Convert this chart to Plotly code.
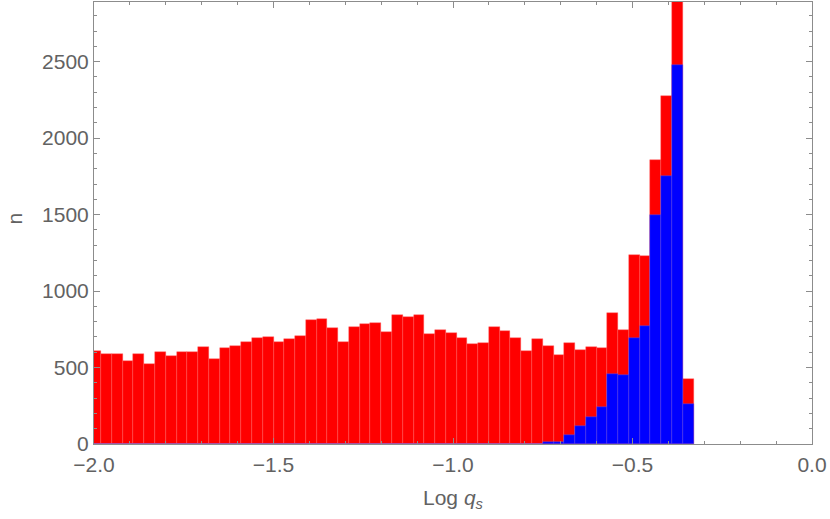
import numpy as np
import plotly.graph_objects as go

# Histogram bins (width 0.03, first edge -2.01)
bin_start = -2.01
bin_width = 0.03

red_counts = [605, 586, 588, 542, 590, 520, 603, 573, 599, 603,
              636, 557, 625, 640, 669, 693, 701, 664, 688, 708,
              813, 819, 758, 666, 767, 786, 793, 732, 846, 828,
              841, 721, 747, 728, 693, 656, 658, 767, 741, 695,
              610, 688, 638, 579, 662, 612, 635, 626, 857, 746,
              1233, 1226, 1857, 2273, 3100, 425]

blue_counts = [0, 0, 0, 0, 0, 0, 0, 0, 0, 0,
               0, 0, 0, 0, 0, 0, 0, 0, 0, 0,
               0, 0, 0, 0, 0, 0, 0, 0, 0, 0,
               0, 0, 0, 0, 0, 0, 0, 0, 0, 0,
               0, 3, 10, 14, 61, 116, 175, 240, 458, 454,
               692, 772, 1499, 1754, 2481, 264]

x_ticks = [-2.0, -1.5, -1.0, -0.5, 0.0]
x_tick_text = ["\u22122.0", "\u22121.5", "\u22121.0", "\u22120.5", "0.0"]
y_ticks = [0, 500, 1000, 1500, 2000, 2500]

centers = bin_start + bin_width * (np.arange(len(red_counts)) + 0.5)

fig = go.Figure()
fig.add_trace(go.Bar(x=centers, y=red_counts, width=bin_width,
                     marker=dict(color="#FF0000",
                                 line=dict(color="rgba(255,90,90,0.8)", width=0.5)),
                     showlegend=False, hoverinfo="skip"))
fig.add_trace(go.Bar(x=centers, y=blue_counts, width=bin_width,
                     marker=dict(color="#0000FF",
                                 line=dict(color="rgba(90,90,255,0.8)", width=0.5)),
                     showlegend=False, hoverinfo="skip"))

font_color = "#626262"
axis_color = "#8c8c8c"
fsize = 21

fig.update_layout(
    barmode="overlay",
    bargap=0,
    width=830, height=519,
    margin=dict(l=94, r=18, t=2, b=75),
    paper_bgcolor="white", plot_bgcolor="white",
    font=dict(family="Liberation Sans, Arial, sans-serif", size=fsize, color=font_color),
    annotations=[
        dict(text="Log <i>q</i><sub><i>s</i></sub>", xref="paper", yref="paper",
             x=0.5, y=0, yshift=-55, xanchor="center", yanchor="middle",
             showarrow=False, font=dict(size=fsize, color=font_color)),
        dict(text="n", xref="paper", yref="paper",
             x=0, xshift=-79, y=0.51, xanchor="center", yanchor="middle",
             textangle=-90, showarrow=False, font=dict(size=fsize, color=font_color)),
    ],
)
fig.update_xaxes(
    range=[-2.0, 0.0], automargin=False,
    tickvals=x_ticks, ticktext=x_tick_text, ticklabelstandoff=2,
    ticks="inside", ticklen=6, tickwidth=1, tickcolor=axis_color,
    minor=dict(dtick=0.1, ticks="inside", ticklen=3, tickcolor=axis_color),
    showline=True, linecolor=axis_color, linewidth=1, mirror="ticks",
    showgrid=False, zeroline=False,
)
fig.update_yaxes(
    range=[0, 2890], automargin=False,
    tickvals=y_ticks,
    ticks="inside", ticklen=6, tickwidth=1, tickcolor=axis_color,
    minor=dict(dtick=100, ticks="inside", ticklen=3, tickcolor=axis_color),
    showline=True, linecolor=axis_color, linewidth=1, mirror="ticks",
    showgrid=False, zeroline=False,
)

fig.write_html("out.html",
               config={"displayModeBar": False},
               post_script="document.body.style.margin='0px';document.body.style.overflow='hidden';")
